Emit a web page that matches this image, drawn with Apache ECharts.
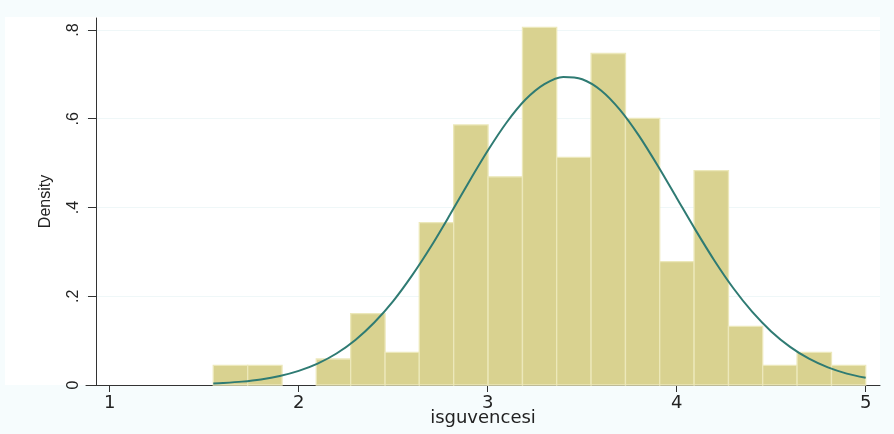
<!DOCTYPE html>
<html>
<head>
<meta charset="utf-8">
<script src="https://cdn.jsdelivr.net/npm/echarts@6/dist/echarts.min.js"></script>
<style>
html,body{margin:0;padding:0;background:#F6FCFD;}
#chart{width:894px;height:434px;}
</style>
</head>
<body>
<div id="chart"></div>
<script>
// Histogram bin edges (variable: isguvencesi)
const binEdges = [1.548, 1.730, 1.912, 2.093, 2.275, 2.457, 2.638, 2.820, 3.002, 3.184,
                  3.365, 3.547, 3.729, 3.910, 4.092, 4.274, 4.455, 4.637, 4.819, 5.000];
// Density of each bin
const densities = [0.044, 0.044, 0, 0.0586, 0.161, 0.0733, 0.366, 0.586, 0.469, 0.806,
                   0.513, 0.747, 0.601, 0.278, 0.483, 0.132, 0.044, 0.0733, 0.044];
// Normal density overlay
const curveX = [1.548, 1.6, 1.7, 1.8, 1.9, 2.0, 2.1, 2.2, 2.3, 2.4, 2.5, 2.6, 2.7, 2.8, 2.9, 3.0,
                3.1, 3.2, 3.3, 3.4, 3.5, 3.6, 3.7, 3.8, 3.9, 4.0, 4.1, 4.2, 4.3, 4.4, 4.5,
                4.6, 4.7, 4.8, 4.9, 5.0];
const curveY = [0.0033, 0.0044, 0.0076, 0.0126, 0.0203, 0.0318, 0.0482, 0.0710, 0.1015, 0.1408,
                0.189, 0.2469, 0.312, 0.3834, 0.457, 0.5277, 0.5915, 0.6432, 0.678, 0.6943,
                0.689, 0.6637, 0.620, 0.562, 0.494, 0.4215, 0.349, 0.2801, 0.218, 0.1647,
                0.1208, 0.0859, 0.0592, 0.0396, 0.0257, 0.0162];
// Tick labels
const xTicks = [1, 2, 3, 4, 5];
const yTicks = [0, 0.2, 0.4, 0.6, 0.8];
const yTickLabels = ['0', '.2', '.4', '.6', '.8'];

const histData = densities.map((d, i) => [binEdges[i], binEdges[i + 1], d]);
const curveData = curveX.map((x, i) => [x, curveY[i]]);

const chart = echarts.init(document.getElementById('chart'), null, {renderer: 'canvas'});
const axisColor = '#333333';
const option = {
  backgroundColor: '#F6FCFD',
  animation: false,
  graphic: [{
    type: 'rect', z: -100, silent: true,
    shape: {x: 5, y: 17, width: 875, height: 368},
    style: {fill: '#FFFFFF'}
  }],
  grid: {left: 86, right: 14, top: 18, bottom: 49, show: false, containLabel: false, outerBoundsMode: 'none'},
  xAxis: {
    type: 'value', min: 0.8746, max: 5.0757,
    name: 'isguvencesi', nameLocation: 'middle', nameGap: 24, nameMoveOverlap: false,
    nameTextStyle: {fontFamily: 'DejaVu Sans', fontSize: 18, color: '#222'},
    axisLine: {show: true, lineStyle: {color: axisColor, width: 1}},
    axisTick: {show: true, length: 7, customValues: xTicks, lineStyle: {color: axisColor}},
    axisLabel: {show: true, customValues: xTicks, margin: 9, fontFamily: 'DejaVu Sans', fontSize: 18, color: '#222'},
    splitLine: {show: false}
  },
  yAxis: {
    type: 'value', min: 0, max: 0.827, offset: -10,
    name: 'Density', nameLocation: 'middle', nameGap: 42, nameRotate: 90, nameMoveOverlap: false,
    nameTextStyle: {fontFamily: 'Liberation Sans', fontSize: 16, color: '#222'},
    axisLine: {show: true, lineStyle: {color: axisColor, width: 1}},
    axisTick: {show: true, length: 8, customValues: yTicks, lineStyle: {color: axisColor}},
    axisLabel: {show: true, customValues: yTicks, rotate: 90, margin: 14, fontFamily: 'Liberation Sans', fontSize: 16, color: '#222',
      formatter: v => { const i = yTicks.findIndex(t => Math.abs(t - v) < 1e-6); return i >= 0 ? yTickLabels[i] : ''; }},
    splitLine: {show: true, lineStyle: {color: '#EFF7F8', width: 1}}
  },
  series: [
    {
      type: 'custom',
      data: histData,
      encode: {x: [0, 1], y: 2},
      renderItem: function (params, api) {
        const h = api.value(2);
        if (!h) return null;
        const p0 = api.coord([api.value(0), 0]);
        const p1 = api.coord([api.value(1), h]);
        return {
          type: 'rect',
          shape: {x: p0[0], y: p1[1], width: p1[0] - p0[0], height: p0[1] - p1[1]},
          style: {fill: '#D9D290', stroke: '#ECE8BA', lineWidth: 1.3}
        };
      },
      z: 2
    },
    {
      type: 'line',
      data: curveData,
      smooth: 0.3,
      showSymbol: false,
      lineStyle: {color: '#2F7B73', width: 2},
      z: 3
    }
  ]
};
chart.setOption(option);
</script>
</body>
</html>
